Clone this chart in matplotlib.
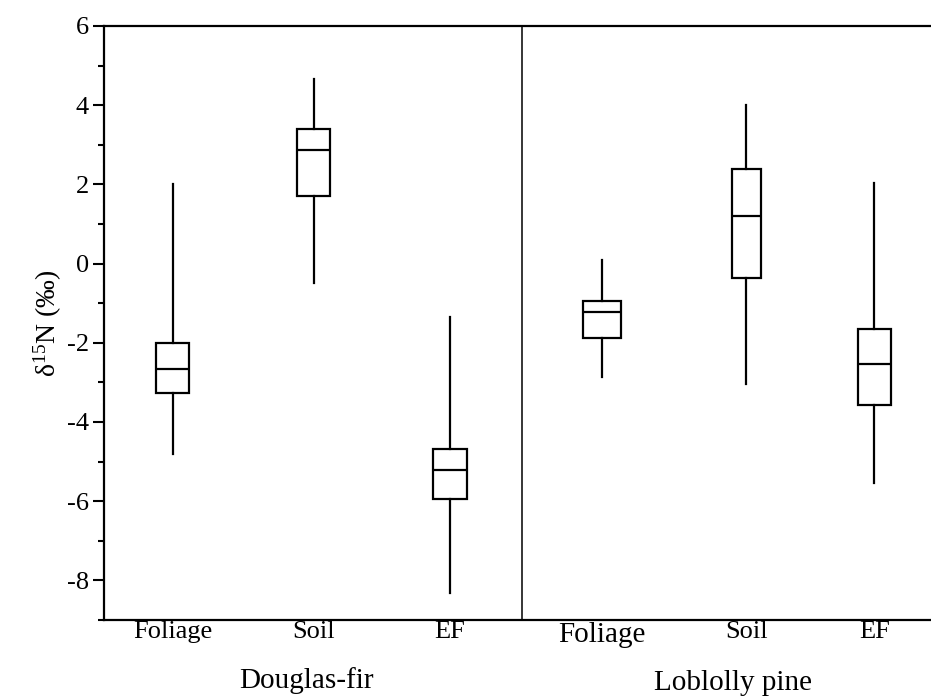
import matplotlib
matplotlib.use("Agg")
import matplotlib.pyplot as plt
from matplotlib.ticker import MultipleLocator
from matplotlib.transforms import Bbox, TransformedBbox, blended_transform_factory

plt.rcParams['font.family'] = ['Liberation Serif', 'DejaVu Serif']
plt.rcParams['mathtext.fontset'] = 'custom'
plt.rcParams['mathtext.rm'] = 'Liberation Serif'
plt.rcParams['mathtext.it'] = 'Liberation Serif'
plt.rcParams['axes.unicode_minus'] = False

# Box statistics (delta 15N, per mil)
categories = ['Foliage', 'Soil', 'EF', 'Foliage', 'Soil', 'EF']
groups = ['Douglas-fir', 'Loblolly pine']
whisker_low = [-4.82, -0.49, -8.33, -2.86, -3.05, -5.55]
q1 = [-3.26, 1.71, -5.94, -1.89, -0.36, -3.56]
medians = [-2.67, 2.86, -5.22, -1.22, 1.19, -2.54]
q3 = [-2.00, 3.39, -4.68, -0.94, 2.38, -1.66]
whisker_high = [2.00, 4.65, -1.34, 0.08, 4.00, 2.04]

# layout
positions = [0.5, 1.52, 2.51, 3.61, 4.66, 5.59]
widths = [0.24, 0.24, 0.245, 0.275, 0.21, 0.24]
divider_x = 3.03

stats = []
for i, name in enumerate(categories):
    stats.append({
        'label': name,
        'whislo': whisker_low[i],
        'q1': q1[i],
        'med': medians[i],
        'q3': q3[i],
        'whishi': whisker_high[i],
        'fliers': [],
    })

fig = plt.figure(figsize=(9.31, 7.0), dpi=100)
ax = fig.add_axes([104 / 931, 80 / 700, 827 / 931, 594 / 700])

line = dict(color='black', linewidth=1.6)
ax.bxp(stats, positions=positions, widths=widths, showcaps=False,
       showfliers=False, patch_artist=True,
       boxprops=dict(facecolor='white', edgecolor='black', linewidth=1.6),
       whiskerprops=line, medianprops=line)

ax.axvline(divider_x, color='black', linewidth=1.1)

ax.set_xlim(0, 6.0)
ax.set_ylim(-9, 6)
ax.yaxis.set_major_locator(MultipleLocator(2))
ax.yaxis.set_minor_locator(MultipleLocator(1))
ax.tick_params(axis='y', which='major', direction='out', length=8, width=1.5,
               labelsize=19, pad=3)
ax.tick_params(axis='y', which='minor', direction='out', length=4, width=1.5)
ax.set_xticks([])

ax.spines['right'].set_visible(False)
for side in ['left', 'bottom', 'top']:
    ax.spines[side].set_linewidth(1.6)

# category labels under the axis; descenders are cut off in the original
trans = blended_transform_factory(ax.transData, ax.transAxes)
label_size = [19, 19, 19, 21, 19, 19]
label_top = [-0.002, -0.002, -0.002, -0.004, -0.002, -0.002]
clip_px = [647, 700, 700, 653, 700, 700]
for i, name in enumerate(categories):
    t = ax.text(positions[i], label_top[i], name, transform=trans,
                fontsize=label_size[i], ha='center', va='top')
    bb = Bbox.from_extents(0, (700 - clip_px[i]) / 700, 1, 1)
    t.set_clip_box(TransformedBbox(bb, fig.transFigure))
    t.set_clip_on(True)

ax.set_ylabel(r'$\mathregular{\delta^{15}}$N (‰)', fontsize=20, labelpad=2)

fig.text(306 / 931, 1 - 681 / 700, groups[0], fontsize=21,
         ha='center', va='center')
fig.text(733 / 931, 1 - 683 / 700, groups[1], fontsize=21,
         ha='center', va='center')

fig.savefig('out.png', dpi=100)
